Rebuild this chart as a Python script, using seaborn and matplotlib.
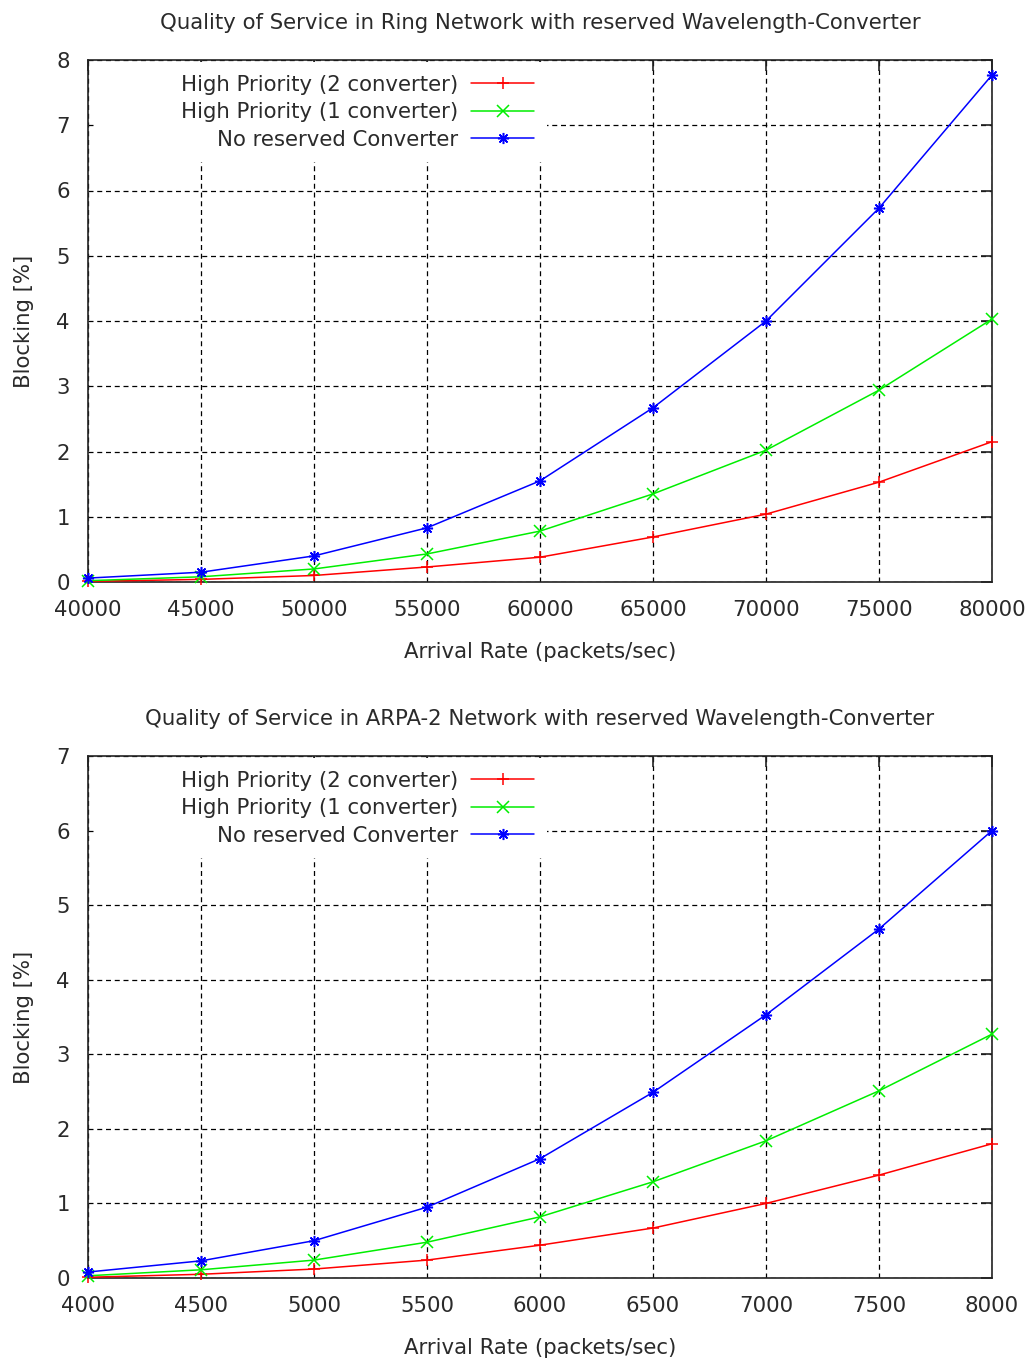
import numpy as np
import pandas as pd
import matplotlib
matplotlib.use("Agg")
import matplotlib.pyplot as plt
from matplotlib.patches import Rectangle
import seaborn as sns

# data
ring_rate = [40000, 45000, 50000, 55000, 60000, 65000, 70000, 75000, 80000]
ring_two_conv = [0.01, 0.04, 0.10, 0.23, 0.38, 0.69, 1.04, 1.53, 2.15]
ring_one_conv = [0.02, 0.08, 0.20, 0.43, 0.78, 1.35, 2.02, 2.94, 4.03]
ring_no_conv = [0.06, 0.15, 0.40, 0.83, 1.55, 2.67, 4.00, 5.73, 7.77]

arpa_rate = [4000, 4500, 5000, 5500, 6000, 6500, 7000, 7500, 8000]
arpa_two_conv = [0.01, 0.05, 0.12, 0.24, 0.44, 0.67, 1.00, 1.38, 1.80]
arpa_one_conv = [0.03, 0.11, 0.24, 0.48, 0.82, 1.29, 1.84, 2.51, 3.27]
arpa_no_conv = [0.08, 0.23, 0.50, 0.95, 1.60, 2.49, 3.53, 4.68, 6.00]

labels = ["High Priority (2 converter)", "High Priority (1 converter)", "No reserved Converter"]
colors = ["#ff0000", "#00ee00", "#0000ff"]
markers = ["+", "x", (8, 2, 0)]

sns.set_style("white")
plt.rcParams["font.family"] = ["DejaVu Sans"]
FS = 15.3
TXT = "#2a2a2a"

fig = plt.figure(figsize=(10.31, 13.62), dpi=100)
ax1 = fig.add_axes([88 / 1031, 1 - 582 / 1362, 904 / 1031, 522 / 1362])
ax2 = fig.add_axes([88 / 1031, 1 - 1278 / 1362, 904 / 1031, 522 / 1362])


def draw(ax, rate, series, ymax, title):
    for vals, lab, c, m in zip(series, labels, colors, markers):
        df = pd.DataFrame({"rate": rate, "block": vals})
        sns.lineplot(data=df, x="rate", y="block", ax=ax, color=c, marker=m,
                     markersize=8, markeredgewidth=1.1, markeredgecolor=c,
                     linewidth=1.1, label=lab, clip_on=False, zorder=3)
    ax.set_xlim(rate[0], rate[-1])
    ax.set_ylim(0, ymax)
    ax.set_xticks(rate)
    ax.set_yticks(range(0, ymax + 1))
    ax.grid(True, color="black", linestyle=(0, (4, 3)), linewidth=0.9)
    for s in ax.spines.values():
        s.set_color("#222222")
        s.set_linewidth(1.2)
    ax.tick_params(direction="in", length=8, width=1.2, top=True, right=True,
                   labelsize=FS, colors="#222222", labelcolor=TXT, pad=13)
    ax.set_title(title, fontsize=FS, pad=22, color=TXT)
    ax.set_xlabel("Arrival Rate (packets/sec)", fontsize=FS, labelpad=16, color=TXT)
    ax.set_ylabel("Blocking [%]", fontsize=FS, labelpad=16, color=TXT)
    # gnuplot-style key: white area hiding the grid in the upper left corner
    ax.add_patch(Rectangle((0.0095, 0.818), 0.49, 0.166, transform=ax.transAxes,
                           facecolor="white", edgecolor="none", zorder=2.5))
    leg = ax.legend(loc="upper right", markerfirst=False, frameon=True, framealpha=1,
                    edgecolor="none", facecolor="white", fontsize=FS, handlelength=3.0,
                    labelspacing=0.35, borderaxespad=0.0, borderpad=0.6, fancybox=False,
                    handletextpad=0.6, bbox_to_anchor=(0.508, 0.996))
    for t in leg.get_texts():
        t.set_color(TXT)
    leg.set_zorder(5)


draw(ax1, ring_rate, [ring_two_conv, ring_one_conv, ring_no_conv], 8,
     "Quality of Service in Ring Network with reserved Wavelength-Converter")
draw(ax2, arpa_rate, [arpa_two_conv, arpa_one_conv, arpa_no_conv], 7,
     "Quality of Service in ARPA-2 Network with reserved Wavelength-Converter")

fig.savefig("out.png", dpi=100)
